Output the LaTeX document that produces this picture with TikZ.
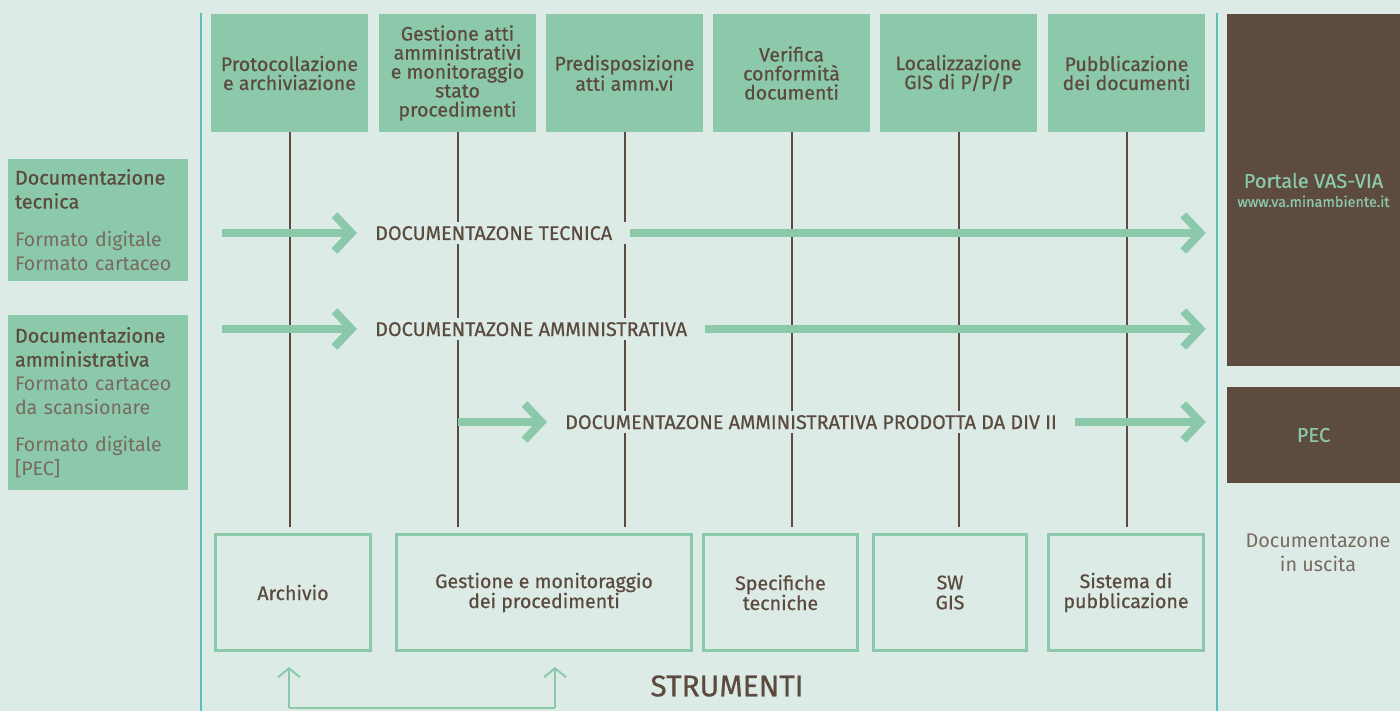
\documentclass[tikz,border=0pt]{standalone}
\usepackage{fontspec}
\setmainfont{Fira Sans}
\newfontfamily\medfont{Fira Sans}[FakeBold=0.6]
\usetikzlibrary{arrows.meta}
\definecolor{bg}{HTML}{DDEBE7}
\definecolor{grn}{HTML}{8CC8AA}
\definecolor{brn}{HTML}{5D4B3F}
\definecolor{txt}{HTML}{5B4A3E}
\definecolor{ltxt}{HTML}{776B61}
\definecolor{tealline}{HTML}{5DBFB6}
\begin{document}
\begin{tikzpicture}[x=1pt,y=-1pt,
  topbox/.style={fill=grn, minimum width=157pt, minimum height=118pt, inner sep=0pt, align=center, text=txt, font=\medfont\fontsize{19.5}{19}\selectfont},
  leftbox/.style={fill=grn, minimum width=180pt, text width=166pt, inner xsep=7pt, align=left, text=ltxt, font=\fontsize{19.6}{24}\selectfont},
  rightbox/.style={fill=brn, minimum width=173pt, inner sep=0pt, align=center, text=grn, font=\medfont},
  toolbox/.style={draw=grn, line width=3pt, minimum height=116pt, inner sep=0pt, align=center, text=txt, font=\medfont\fontsize{19.6}{20}\selectfont},
  flowlabel/.style={fill=bg, anchor=west, inner xsep=18pt, inner ysep=4pt, text height=14pt, text depth=0pt, text=txt, font=\medfont\fontsize{19.8}{20}\selectfont},
  vline/.style={draw=brn, line width=2pt},
  bigarrow/.style={draw=grn, line width=8pt, -{Straight Barb[length=17pt, width=36pt, line width=8pt]}},
  thinarrow/.style={draw=grn, line width=2pt, -{Straight Barb[length=9pt, width=22pt, line width=2pt]}},
  sep/.style={draw=tealline, line width=2pt}
]
\fill[bg] (0,0) rectangle (1400,711);
\useasboundingbox (0,0) rectangle (1400,711);

% separators
\draw[sep] (201,13) -- (201,711);
\draw[sep] (1217,13) -- (1217,711);

% top boxes
\node[topbox] (t1) at (289.5,73) {Protocollazione\\e archiviazione};
\node[topbox] (t2) at (457.5,73) {Gestione atti\\amministrativi\\e monitoraggio\\stato\\procedimenti};
\node[topbox] (t3) at (624.5,73) {Predisposizione\\atti amm.vi};
\node[topbox] (t4) at (791.5,73) {Verifica\\conformità\\documenti};
\node[topbox] (t5) at (958.5,73) {Localizzazione\\GIS di P/P/P};
\node[topbox] (t6) at (1126.5,73) {Pubblicazione\\dei documenti};

% left boxes
\node[leftbox, minimum height=122pt] (l1) at (98,220) {{\medfont\color{txt}\fontsize{19.8}{24}\selectfont Documentazione\\tecnica}\\[14pt]Formato digitale\\Formato cartaceo};
\node[leftbox, minimum height=175pt] (l2) at (98,402.5) {{\medfont\color{txt}\fontsize{19.8}{24}\selectfont Documentazione\\amministrativa}\\Formato cartaceo\\da scansionare\\[13pt]Formato digitale\\{[PEC]}};

% right boxes
\node[rightbox, minimum height=352pt, font=\medfont\fontsize{20}{19}\selectfont] (portale) at (1313.5,190) {Portale VAS-VIA\\{\fontsize{14.5}{19}\selectfont www.va.minambiente.it}};
\node[rightbox, minimum height=96pt, font=\medfont\fontsize{20}{20}\selectfont] (pec) at (1313.5,435) {PEC};
\node[align=center, text=ltxt, font=\fontsize{19.8}{24}\selectfont] (uscita) at (1318,553) {Documentazone\\in uscita};

% tool boxes
\node[toolbox, minimum width=155pt] (b1) at (293,592.5) {Archivio};
\node[toolbox, minimum width=295pt] (b2) at (544,592.5) {Gestione e monitoraggio\\dei procedimenti};
\node[toolbox, minimum width=154pt] (b3) at (780.5,592.5) {Specifiche\\tecniche};
\node[toolbox, minimum width=153pt] (b4) at (950,592.5) {SW\\GIS};
\node[toolbox, minimum width=155pt] (b5) at (1126,592.5) {Sistema di\\pubblicazione};
\node[text=txt, font=\medfont\fontsize{30}{32}\selectfont] (strum) at (727,686) {STRUMENTI};

% vertical lines
\draw[vline, shorten >=6pt] (t1.south) -- (t1.south |- b1.north);
\draw[vline, shorten >=6pt] (t2.south) -- (t2.south |- b2.north);
\draw[vline, shorten >=6pt] (t3.south) -- (t3.south |- b2.north);
\draw[vline, shorten >=6pt] (t4.south) -- (t4.south |- b3.north);
\draw[vline, shorten >=6pt] (t5.south) -- (t5.south |- b4.north);
\draw[vline, shorten >=6pt] (t6.south) -- (t6.south |- b5.north);

% flow labels
\node[flowlabel] (f1) at (357,233) {DOCUMENTAZONE TECNICA};
\node[flowlabel] (f2) at (357,329) {DOCUMENTAZONE AMMINISTRATIVA};
\node[flowlabel] (f3) at (547,422) {DOCUMENTAZONE AMMINISTRATIVA PRODOTTA DA DIV II};

\coordinate (s1) at (222,233);
\coordinate (s2) at (222,329);
\coordinate (s3) at (t2.south |- f3.west);

\draw[bigarrow] (s1) -- (f1.west);
\draw[bigarrow, shorten >=21pt] (f1.east) -- (portale.west |- f1.east);
\draw[bigarrow] (s2) -- (f2.west);
\draw[bigarrow, shorten >=21pt] (f2.east) -- (portale.west |- f2.east);
\draw[bigarrow] (s3) -- (f3.west);
\draw[bigarrow, shorten >=21pt] (f3.east) -- (pec.west |- f3.east);

% bottom feedback arrows
\coordinate (c1) at (289,708);
\coordinate (c2) at (555,708);
\draw[draw=grn, line width=2pt] (c1) -- (c2);
\draw[thinarrow, shorten >=15pt] (c1) -- (c1 |- b1.south);
\draw[thinarrow, shorten >=15pt] (c2) -- (c2 |- b2.south);
\end{tikzpicture}
\end{document}
